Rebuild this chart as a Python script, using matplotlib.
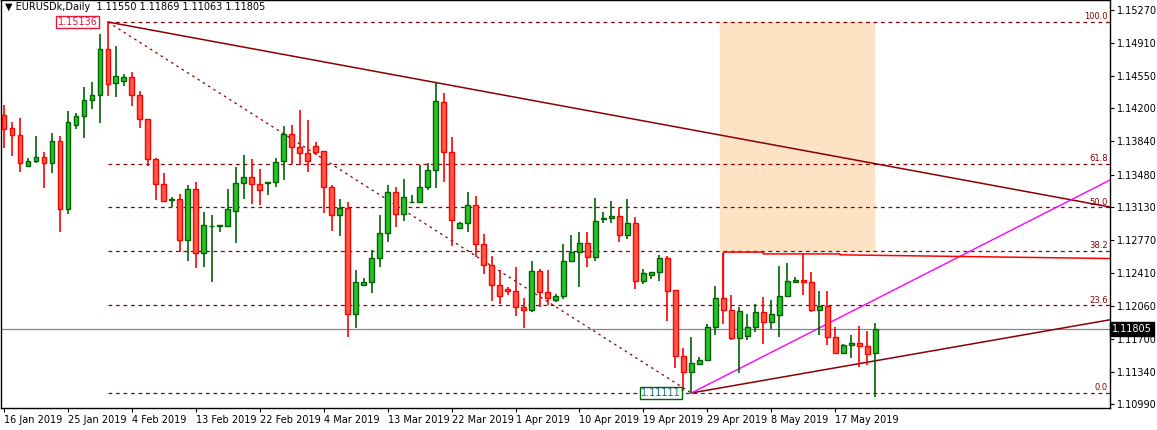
import numpy as np
import matplotlib.pyplot as plt

# === DATA (EURUSDk daily) ===
opens = [1.1413, 1.1399, 1.1391, 1.1357, 1.1363, 1.1367, 1.1361, 1.1385, 1.1311, 1.1402,
         1.1412, 1.1429, 1.1434, 1.1484, 1.1447, 1.1450, 1.1454, 1.1434, 1.1408, 1.1365,
         1.1338, 1.1321, 1.1322, 1.1277, 1.1332, 1.1263, 1.1292, 1.1292, 1.1292, 1.1309,
         1.1339, 1.1345, 1.1338, 1.1339, 1.1340, 1.1363, 1.1392, 1.1378, 1.1372, 1.1379,
         1.1374, 1.1335, 1.1304, 1.1312, 1.1197, 1.1228, 1.1231, 1.1258, 1.1285, 1.1329,
         1.1305, 1.1318, 1.1318, 1.1335, 1.1353, 1.1427, 1.1373, 1.1290, 1.1295, 1.1315,
         1.1273, 1.1250, 1.1228, 1.1224, 1.1222, 1.1204, 1.1201, 1.1243, 1.1221, 1.1212,
         1.1216, 1.1254, 1.1264, 1.1274, 1.1259, 1.1300, 1.1301, 1.1303, 1.1283, 1.1295,
         1.1233, 1.1239, 1.1242, 1.1258, 1.1223, 1.1151, 1.1134, 1.1142, 1.1147, 1.1183,
         1.1214, 1.1201, 1.1171, 1.1173, 1.1183, 1.1199, 1.1188, 1.1196, 1.1216, 1.1232,
         1.1234, 1.1231, 1.1201, 1.1205, 1.1172, 1.1154, 1.1163, 1.1165, 1.1162, 1.11550]
highs = [1.1424, 1.1405, 1.1409, 1.1366, 1.1390, 1.1373, 1.1393, 1.1390, 1.1417, 1.1415,
         1.1443, 1.1449, 1.1501, 1.15136, 1.1488, 1.1457, 1.1459, 1.1439, 1.1408, 1.1366,
         1.1350, 1.1324, 1.1327, 1.1337, 1.1340, 1.1307, 1.1304, 1.1293, 1.1332, 1.1356,
         1.1369, 1.1365, 1.1354, 1.1340, 1.1366, 1.1401, 1.1402, 1.1418, 1.1407, 1.1383,
         1.1374, 1.1337, 1.1322, 1.1318, 1.1245, 1.1236, 1.1266, 1.1304, 1.1337, 1.1335,
         1.1343, 1.1326, 1.1358, 1.1361, 1.1448, 1.1437, 1.1389, 1.1297, 1.1329, 1.1325,
         1.1284, 1.1260, 1.1245, 1.1226, 1.1248, 1.1214, 1.1254, 1.1246, 1.1245, 1.1219,
         1.1273, 1.1283, 1.1286, 1.1286, 1.1323, 1.1307, 1.1319, 1.1312, 1.1322, 1.1302,
         1.1246, 1.1242, 1.1261, 1.1260, 1.1223, 1.1160, 1.1172, 1.1150, 1.1186, 1.1227,
         1.1263, 1.1217, 1.1204, 1.1197, 1.1208, 1.1215, 1.1212, 1.1249, 1.1252, 1.1237,
         1.1263, 1.1242, 1.1222, 1.1222, 1.1183, 1.1164, 1.1174, 1.1184, 1.1178, 1.11869]
lows = [1.1377, 1.1368, 1.1351, 1.1356, 1.1361, 1.1334, 1.1350, 1.1286, 1.1305, 1.1398,
        1.1388, 1.1419, 1.1404, 1.1433, 1.1432, 1.1444, 1.1423, 1.1399, 1.1357, 1.1321,
        1.1318, 1.1313, 1.1264, 1.1254, 1.1247, 1.1248, 1.1232, 1.1286, 1.1291, 1.1274,
        1.1322, 1.1316, 1.1315, 1.1326, 1.1335, 1.1342, 1.1360, 1.1359, 1.1351, 1.1369,
        1.1306, 1.1287, 1.1281, 1.1172, 1.1182, 1.1228, 1.1220, 1.1248, 1.1275, 1.1291,
        1.1298, 1.1317, 1.1318, 1.1331, 1.1334, 1.1340, 1.1271, 1.1289, 1.1286, 1.1259,
        1.1240, 1.1211, 1.1208, 1.1217, 1.1195, 1.1182, 1.1199, 1.1204, 1.1207, 1.1210,
        1.1213, 1.1254, 1.1226, 1.1248, 1.1254, 1.1296, 1.1296, 1.1275, 1.1278, 1.1224,
        1.1229, 1.1235, 1.1233, 1.1189, 1.1138, 1.1113, 1.11111, 1.1142, 1.1147, 1.1174,
        1.1186, 1.1169, 1.1133, 1.1169, 1.1177, 1.1164, 1.1181, 1.1172, 1.1216, 1.1232,
        1.1217, 1.1199, 1.1174, 1.1163, 1.1153, 1.1154, 1.1149, 1.1139, 1.1141, 1.11063]
closes = [1.1398, 1.1391, 1.1361, 1.1363, 1.1367, 1.1361, 1.1385, 1.1311, 1.1405, 1.1412,
          1.1429, 1.1434, 1.1484, 1.1446, 1.1455, 1.1454, 1.1434, 1.1408, 1.1365, 1.1338,
          1.1319, 1.1322, 1.1277, 1.1332, 1.1263, 1.1293, 1.1292, 1.1293, 1.1311, 1.1339,
          1.1345, 1.1338, 1.1331, 1.1340, 1.1362, 1.1392, 1.1378, 1.1371, 1.1363, 1.1373,
          1.1335, 1.1304, 1.1312, 1.1197, 1.1232, 1.1231, 1.1258, 1.1285, 1.1329, 1.1305,
          1.1324, 1.1318, 1.1335, 1.1353, 1.1428, 1.1373, 1.1299, 1.1295, 1.1315, 1.1273,
          1.1250, 1.1228, 1.1216, 1.1222, 1.1204, 1.1201, 1.1243, 1.1221, 1.1214, 1.1216,
          1.1254, 1.1264, 1.1274, 1.1259, 1.1298, 1.1301, 1.1303, 1.1283, 1.1295, 1.1233,
          1.1241, 1.1242, 1.1258, 1.1222, 1.1151, 1.1134, 1.1144, 1.1147, 1.1183, 1.1214,
          1.1201, 1.1171, 1.1200, 1.1183, 1.1199, 1.1188, 1.1197, 1.1216, 1.1233, 1.1234,
          1.1231, 1.1201, 1.1205, 1.1172, 1.1155, 1.1163, 1.1165, 1.1162, 1.1153, 1.11805]

date_labels = ["16 Jan 2019", "25 Jan 2019", "4 Feb 2019", "13 Feb 2019", "22 Feb 2019",
               "4 Mar 2019", "13 Mar 2019", "22 Mar 2019", "1 Apr 2019", "10 Apr 2019",
               "19 Apr 2019", "29 Apr 2019", "8 May 2019", "17 May 2019"]
date_idx = [0, 8, 16, 24, 32, 40, 48, 56, 64, 72, 80, 88, 96, 104]

price_ticks = [1.15270, 1.14910, 1.14550, 1.14200, 1.13840, 1.13480, 1.13130,
               1.12770, 1.12410, 1.12060, 1.11700, 1.11340, 1.10990]

fib_names = ["0.0", "23.6", "38.2", "50.0", "61.8", "100.0"]
fib_prices = [1.11111, 1.12061, 1.12649, 1.13124, 1.13598, 1.15136]

HI_BAR, LO_BAR = 13, 86
RECT_BARS = (90, 109)

# === FIGURE ===
W, H = 1157, 430
fig = plt.figure(figsize=(W / 100, H / 100), dpi=100)
ax = fig.add_axes([1 / W, 22 / H, 1109 / W, 408 / H])
XMAX = (1110 - 3) / 8
ax.set_xlim(-0.375, XMAX)
ax.set_ylim(1.10948, 1.15375)

n = len(opens)
x = np.arange(n)
o, h, l, c = map(np.array, (opens, highs, lows, closes))
up = c >= o

# Fibonacci rectangle
ax.fill_between([RECT_BARS[0] - 0.4, RECT_BARS[1] - 0.1], fib_prices[2], fib_prices[5],
                color='#fde3c4', zorder=0)

# Fib levels
for name, p in zip(fib_names, fib_prices):
    ax.plot([HI_BAR, XMAX], [p, p], color='#8b0000', ls=(0, (3, 3)), lw=0.9, zorder=1)
    ax.text(XMAX - 0.3, p + 0.00008, name, color='#8b0000', fontsize=6, ha='right', va='bottom')

# current price line
ax.axhline(c[-1], color='#7a8896', lw=0.9, zorder=1)

# trend lines (rays to right edge)
def ray(x0, y0, x1, y1, **kw):
    s = (y1 - y0) / (x1 - x0)
    ax.plot([x0, XMAX], [y0, y0 + s * (XMAX - x0)], **kw)

ray(HI_BAR, h[HI_BAR], 109, 1.13599, color='#8b0000', lw=1.1, zorder=2)
ray(LO_BAR, l[LO_BAR], 110, 1.11475, color='#8b0000', lw=1.1, zorder=2)
ray(LO_BAR, l[LO_BAR], 110, 1.12170, color='#ff00ff', lw=1.0, zorder=2)
ax.plot([HI_BAR, LO_BAR], [h[HI_BAR], l[LO_BAR]], color='#8b0000', ls=(0, (2, 3)), lw=0.9, zorder=2)

# red horizontal line
ax.plot([90, 90, 95, 95, 104.6, 104.6, XMAX],
        [1.1214, 1.1264, 1.1264, 1.1262, 1.1262, 1.1261, 1.1257], color='red', lw=1.1, zorder=2)

# candles
for col_up, fill, edge in [(True, '#2bc02b', '#006400'), (False, '#ff5a45', '#ff0000')]:
    m = up == col_up
    ax.vlines(x[m], l[m], h[m], color=edge, lw=1.2, zorder=3)
    body = np.abs(c[m] - o[m])
    body = np.where(body < 0.00004, 0.00004, body)
    ax.bar(x[m], body, bottom=np.minimum(o[m], c[m]), width=0.6, color=fill,
           edgecolor=edge, lw=1.0, zorder=4)

# price labels on chart
ax.text(HI_BAR - 1.3, h[HI_BAR], "1.15136", color='#e8173c', fontsize=7, ha='right', va='center',
        bbox=dict(boxstyle='square,pad=0.15', fc='white', ec='#e8173c', lw=1))
ax.text(LO_BAR - 1.3, l[LO_BAR], "1.11111", color='#1a6e8a', fontsize=7, ha='right', va='center',
        bbox=dict(boxstyle='square,pad=0.15', fc='white', ec='#006400', lw=1))

ax.text(0.004, 0.995, u"\u25BC EURUSDk,Daily  1.11550 1.11869 1.11063 1.11805",
        transform=ax.transAxes, fontsize=7, va='top', ha='left')

# axes
ax.yaxis.tick_right()
ax.set_yticks(price_ticks)
ax.set_yticklabels([f"{p:.5f}" for p in price_ticks])
ax.set_xticks(date_idx)
ax.set_xticklabels(date_labels, ha='left')
ax.tick_params(labelsize=7, length=3, width=0.8, pad=2)
for s in ax.spines.values():
    s.set_linewidth(1)

ax.text(1.002, c[-1], f"{c[-1]:.5f}", transform=ax.get_yaxis_transform(), fontsize=7,
        color='white', va='center', ha='left',
        bbox=dict(boxstyle='square,pad=0.2', fc='black', ec='black'))

fig.savefig("out.png", dpi=100)
